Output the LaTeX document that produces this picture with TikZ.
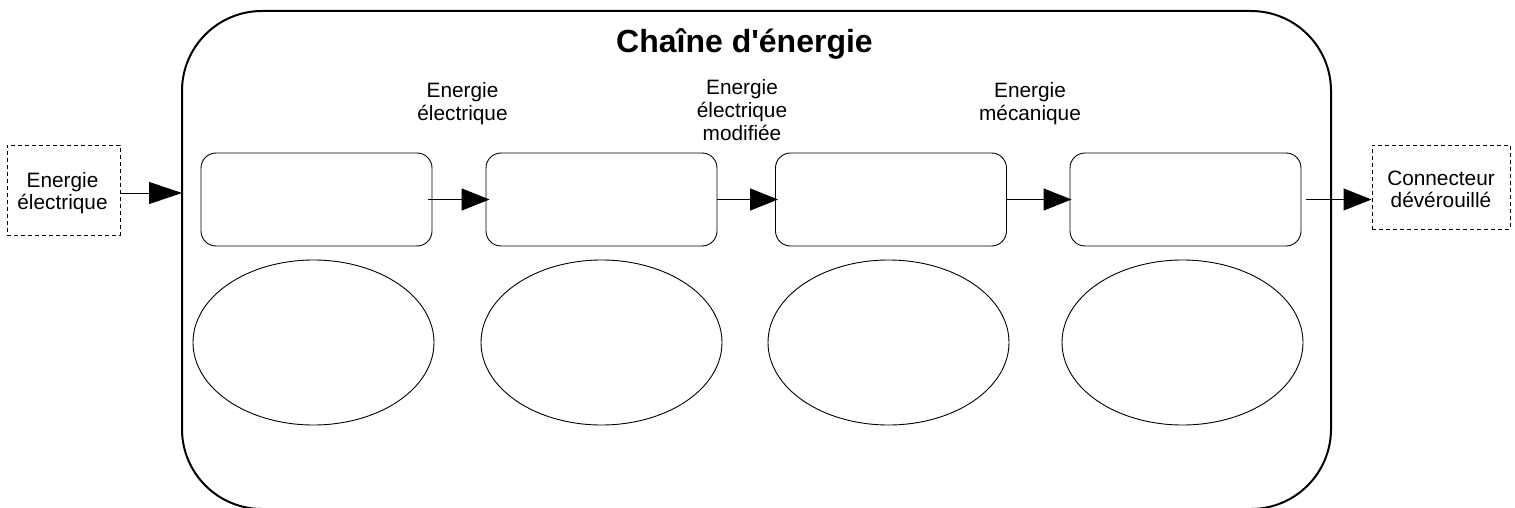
\documentclass[tikz,border=0pt]{standalone}
\usepackage{fontspec}
\setmainfont{Liberation Sans}[Ligatures=TeXOff]
\usetikzlibrary{arrows.meta,shapes.geometric}
\begin{document}
\begin{tikzpicture}[x=1pt,y=-1pt,
  lbl/.style={align=center,inner sep=0pt,anchor=base,font=\fontsize{20.8}{22.5}\selectfont},
  blockbox/.style={draw,line width=0.9pt,rounded corners=15pt,minimum width=231pt,minimum height=93pt,inner sep=0pt},
  oval/.style={draw,line width=0.9pt,ellipse,minimum width=241pt,minimum height=165pt,inner sep=0pt},
  dbox/.style={draw,line width=0.9pt,dash pattern=on 4pt off 3pt,inner sep=0pt},
  arr/.style={line width=1pt,-{Triangle[length=28pt,width=22pt]}}
]
\clip (0,0) rectangle (1515,508);
\fill[white] (0,0) rectangle (1515,508);
% big rounded frame
\draw[line width=2pt,rounded corners=80pt] (182,11) rectangle (1331,509);
\coordinate (bigw) at (182,193);
\node[anchor=base,inner sep=0pt,font=\bfseries\fontsize{32}{36}\selectfont] (title) at (744.5,53) {Chaîne d'énergie};
% blocks
\node[blockbox] (b1) at (316.5,199.5) {};
\node[blockbox] (b2) at (601.5,199.5) {};
\node[blockbox] (b3) at (891,199.5) {};
\node[blockbox] (b4) at (1185.5,199.5) {};
% ovals
\node[oval] (e1) at (313.5,342.5) {};
\node[oval] (e2) at (601.5,342.5) {};
\node[oval] (e3) at (888.5,342.5) {};
\node[oval] (e4) at (1182.5,342.5) {};
% in / out
\node[dbox,minimum width=113pt,minimum height=90pt] (in) at (63.5,190) {};
\node[lbl] (intext) at (62.5,209.5) {Energie\\électrique};
\node[dbox,minimum width=138pt,minimum height=84pt] (out) at (1441,187) {};
\node[lbl] (outtext) at (1441,207.5) {Connecteur\\dévérouillé};
% labels
\node[lbl] (l1) at (462.5,120.5) {Energie\\électrique};
\node[lbl] (l2) at (742,140) {Energie\\électrique\\modifiée};
\node[lbl] (l3) at (1030,120.5) {Energie\\mécanique};
% arrows
\draw[arr,-{Triangle[length=33pt,width=22pt]}] (in.east |- bigw) -- (bigw);
\draw[arr] ([xshift=-4pt]b1.east) -- ([xshift=4pt]b2.west);
\draw[arr] ([xshift=0pt]b2.east) -- ([xshift=3pt]b3.west);
\draw[arr] ([xshift=0pt]b3.east) -- ([xshift=2pt]b4.west);
\draw[arr] ([xshift=5pt]b4.east) -- (out.west |- b4.east);
\end{tikzpicture}
\end{document}
